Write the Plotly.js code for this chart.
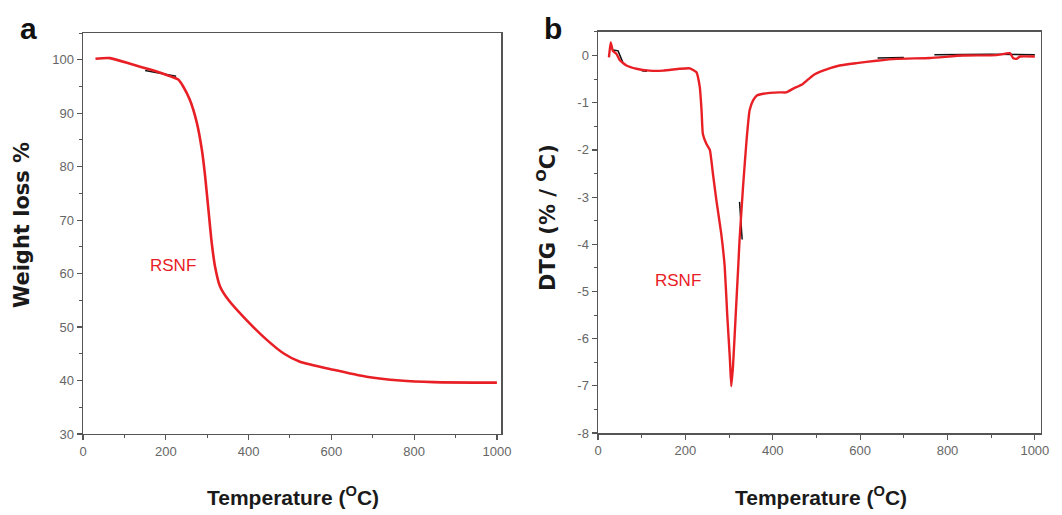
<!DOCTYPE html>
<html><head><meta charset="utf-8">
<script src="https://cdn.plot.ly/plotly-3.0.1.min.js"></script>
<style>html,body{margin:0;padding:0;background:#fff}#chart{width:1062px;height:515px}</style>
</head><body><div id="chart"></div>
<script>
// Panel a: TGA
const tgaTemp = [30, 65, 120, 160, 200, 230, 242, 258, 275, 287, 295, 303, 311, 319, 331, 351, 395, 444, 484, 524, 605, 685, 766, 847, 1000];
const tgaWeight = [100.2, 100.3, 99.1, 98.2, 97.2, 96.3, 95.0, 92.5, 88.2, 83.2, 78.2, 71.9, 65.7, 61.3, 57.6, 55.1, 51.3, 47.6, 45.1, 43.5, 42.0, 40.7, 40.0, 39.7, 39.6];
const tgaRefTemp = [150, 190, 225];
const tgaRefWeight = [98.0, 97.4, 96.9];

// Panel b: DTG
const dtgTemp = [25, 29, 34, 42, 50, 65, 88, 118, 149, 187, 210, 225, 233, 237, 240, 248, 256, 263, 271, 282, 290, 296, 302, 305, 309, 315, 321, 324, 332, 340, 347, 355, 363, 378, 416, 431, 447, 469, 492, 515, 553, 592, 637, 683, 760, 836, 912, 943, 950, 958, 966, 1000];
const dtgValue = [-0.04, 0.28, 0.1, 0.04, -0.1, -0.21, -0.28, -0.32, -0.32, -0.28, -0.27, -0.35, -0.67, -1.16, -1.66, -1.87, -2.0, -2.5, -3.07, -3.77, -4.47, -5.53, -6.45, -7.01, -6.59, -5.53, -4.47, -3.91, -2.78, -1.8, -1.16, -0.95, -0.85, -0.81, -0.78, -0.78, -0.7, -0.6, -0.42, -0.32, -0.21, -0.16, -0.11, -0.07, -0.05, 0.0, 0.01, 0.05, -0.05, -0.07, -0.02, -0.02];
const dtgRefTemp = [35, 46, 57, null, 100, 112, null, 324, 327, 330, null, 640, 700, null, 770, 900, 1000];
const dtgRefValue = [0.12, 0.1, -0.15, null, -0.32, -0.33, null, -3.1, -3.5, -3.9, null, -0.05, -0.04, null, 0.02, 0.03, 0.02];

const xTicks = [0, 200, 400, 600, 800, 1000];
const tgaTicks = [30, 40, 50, 60, 70, 80, 90, 100];
const dtgTicks = [-8, -7, -6, -5, -4, -3, -2, -1, 0];
const dtgTickText = ['-8', '-7', '-6', '-5', '-4', '-3', '-2', '-1', '0'];

const red = 'rgb(232,32,38)';
const frame = '#555';
const tickFont = {family: 'Liberation Sans, Arial, sans-serif', size: 13, color: '#666'};

function axisBase(extra) {
  return Object.assign({
    showline: true, mirror: true, linecolor: frame, linewidth: 1.5,
    ticks: 'outside', ticklen: 5, tickwidth: 1.2, tickcolor: frame,
    showgrid: false, zeroline: false, tickfont: tickFont
  }, extra);
}
function minorTicks(step) {
  return {ticks: 'outside', ticklen: 3, tickwidth: 1, tickcolor: frame, dtick: step, tick0: 0, showgrid: false};
}

const traces = [
  {x: tgaRefTemp, y: tgaRefWeight, xaxis: 'x', yaxis: 'y', mode: 'lines', line: {color: '#111', width: 1.5}, hoverinfo: 'skip'},
  {x: tgaTemp, y: tgaWeight, xaxis: 'x', yaxis: 'y', mode: 'lines', line: {color: red, width: 2.6, shape: 'spline', smoothing: 0.6}},
  {x: dtgRefTemp, y: dtgRefValue, xaxis: 'x2', yaxis: 'y2', mode: 'lines', line: {color: '#111', width: 1.5}, connectgaps: false, hoverinfo: 'skip'},
  {x: dtgTemp, y: dtgValue, xaxis: 'x2', yaxis: 'y2', mode: 'lines', line: {color: red, width: 2.4, shape: 'spline', smoothing: 0.4}}
];

const xTitleFont = {family: 'Liberation Sans, Arial, sans-serif', size: 21, color: '#1a1a1a'};
const yTitleFont = {family: 'DejaVu Sans, sans-serif', size: 21, color: '#1a1a1a'};

const layout = {
  width: 1062, height: 515,
  margin: {l: 0, r: 0, t: 0, b: 0},
  paper_bgcolor: '#fff', plot_bgcolor: '#fff',
  showlegend: false,
  xaxis: axisBase({domain: [0.0782, 0.4718], range: [0, 1010], tickvals: xTicks, anchor: 'y', minor: minorTicks(100)}),
  yaxis: axisBase({domain: [0.1573, 0.9359], range: [30, 105], tickvals: tgaTicks, anchor: 'x', minor: minorTicks(5)}),
  xaxis2: axisBase({domain: [0.5631, 0.9802], range: [0, 1014], tickvals: xTicks, anchor: 'y2', minor: minorTicks(100)}),
  yaxis2: axisBase({domain: [0.1592, 0.9379], range: [-8, 0.5], tickvals: dtgTicks, ticktext: dtgTickText, anchor: 'x2', minor: minorTicks(0.5)}),
  annotations: [
    {xref: 'paper', yref: 'paper', x: 28/1062, y: 1 - 28/515, text: '<b>a</b>', showarrow: false, font: {family: 'Liberation Sans, Arial, sans-serif', size: 30, color: '#111'}, xanchor: 'center', yanchor: 'middle'},
    {xref: 'paper', yref: 'paper', x: 553/1062, y: 1 - 28/515, text: '<b>b</b>', showarrow: false, font: {family: 'Liberation Sans, Arial, sans-serif', size: 30, color: '#111'}, xanchor: 'center', yanchor: 'middle'},
    {xref: 'paper', yref: 'paper', x: 293/1062, y: 1 - 496/515, text: '<b>Temperature (<sup>O</sup>C)</b>', showarrow: false, font: xTitleFont, xanchor: 'center', yanchor: 'middle'},
    {xref: 'paper', yref: 'paper', x: 821/1062, y: 1 - 496/515, text: '<b>Temperature (<sup>O</sup>C)</b>', showarrow: false, font: xTitleFont, xanchor: 'center', yanchor: 'middle'},
    {xref: 'paper', yref: 'paper', x: 22/1062, y: 1 - 225/515, text: '<b>Weight loss %</b>', textangle: -90, showarrow: false, font: yTitleFont, xanchor: 'center', yanchor: 'middle'},
    {xref: 'paper', yref: 'paper', x: 546/1062, y: 1 - 218/515, text: '<b>DTG (% / <sup>O</sup>C)</b>', textangle: -90, showarrow: false, font: yTitleFont, xanchor: 'center', yanchor: 'middle'},
    {xref: 'x', yref: 'y', x: 217, y: 61.6, text: 'RSNF', showarrow: false, font: {family: 'Liberation Sans, Arial, sans-serif', size: 17, color: red}},
    {xref: 'x2', yref: 'y2', x: 183, y: -4.76, text: 'RSNF', showarrow: false, font: {family: 'Liberation Sans, Arial, sans-serif', size: 17, color: red}}
  ]
};

Plotly.newPlot('chart', traces, layout, {displayModeBar: false, staticPlot: true});
</script>
</body></html>
